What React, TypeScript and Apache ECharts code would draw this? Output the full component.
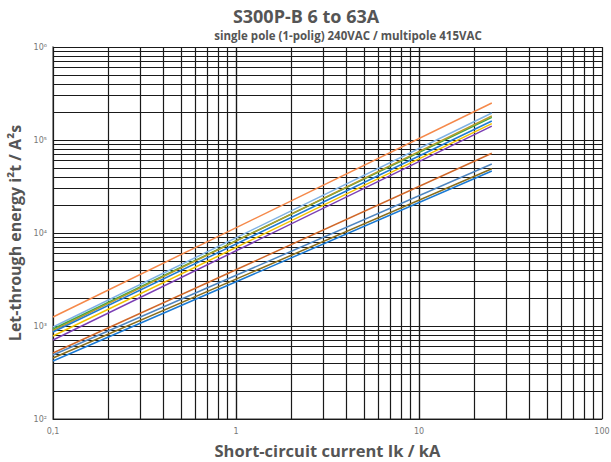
import React, { useEffect, useRef } from "react";
import * as echarts from "echarts";

const currents = [0.1, 25];
const b63 = [1250, 250000];
const b50 = [975, 195000];
const b40 = [929, 175000];
const b32 = [895, 181000];
const b25 = [862, 160000];
const b20 = [780, 150000];
const b16 = [707, 141000];
const b13 = [513, 72000];
const b10 = [488, 55200];
const b8 = [453, 49000];
const b6 = [420, 46400];

const lineDefs: [string, number[], string][] = [
  ["B63", b63, "#f5894a"],
  ["B50", b50, "#7fb2e5"],
  ["B40", b40, "#3aa845"],
  ["B32", b32, "#b59a2a"],
  ["B25", b25, "#1f7ad2"],
  ["B20", b20, "#f2c200"],
  ["B16", b16, "#7b3fb5"],
  ["B13", b13, "#d0682a"],
  ["B10", b10, "#4f86c0"],
  ["B8", b8, "#8a6e1c"],
  ["B6", b6, "#1a7ad4"],
];

const xTickLabels: Record<string, string> = { "0.1": "0,1", "1": "1", "10": "10", "100": "100" };
const yTickLabels: Record<string, string> = {
  "100": "10²",
  "1000": "10³",
  "10000": "10⁴",
  "100000": "10⁵",
  "1000000": "10⁶",
};

export default function App() {
  const ref = useRef<HTMLDivElement>(null);
  useEffect(() => {
    if (!ref.current) return;
    const chart = echarts.init(ref.current, undefined, { renderer: "svg" });
    const xGrid: number[] = [];
    for (const d of [0.1, 1, 10]) for (let k = 1; k <= 10; k++) xGrid.push(+(d * k).toPrecision(3));
    const yGrid: number[] = [];
    for (const d of [100, 1000, 10000, 100000]) for (let k = 1; k <= 10; k++) yGrid.push(d * k);
    const gridStyle = { color: "#1a1a1a", width: 1.2, type: "solid" as const };
    const series: any[] = lineDefs.map(([name, vals, color]) => ({
      name,
      type: "line",
      data: currents.map((c, i) => [c, vals[i]]),
      symbol: "none",
      lineStyle: { color, width: 1.5 },
      z: 5,
    }));
    series.unshift({
      type: "line",
      data: [],
      silent: true,
      z: 1,
      markLine: {
        silent: true,
        symbol: "none",
        label: { show: false },
        lineStyle: gridStyle,
        data: [...xGrid.map((v) => ({ xAxis: v })), ...yGrid.map((v) => ({ yAxis: v }))],
      },
    });
    chart.setOption({
      animation: false,
      title: [
        {
          text: "S300P-B 6 to 63A",
          left: 301,
          textAlign: "center",
          top: 2,
          textStyle: { fontFamily: "Open Sans", fontWeight: "bold", fontSize: 18, color: "#555" },
        },
        {
          text: "single pole (1-polig) 240VAC / multipole 415VAC",
          left: 343,
          textAlign: "center",
          top: 24,
          textStyle: { fontFamily: "Open Sans", fontWeight: "bold", fontSize: 11.5, color: "#555" },
        },
      ],
      grid: { left: 53, right: 9, top: 47, bottom: 43, outerBoundsMode: "none", containLabel: false },
      xAxis: {
        type: "log",
        logBase: 10,
        min: 0.1,
        max: 100,
        name: "Short-circuit current Ik / kA",
        nameLocation: "middle",
        nameGap: 23,
        nameTextStyle: { fontFamily: "Open Sans", fontWeight: "bold", fontSize: 16.5, color: "#555" },
        axisLine: { show: true, lineStyle: { color: "#999", width: 2 } },
        axisTick: { show: false },
        splitLine: { show: false },
        axisLabel: {
          fontSize: 8,
          color: "#777",
          margin: 8,
          fontFamily: "DejaVu Sans",
          formatter: (v: number) => xTickLabels[String(+v.toPrecision(3))] ?? "",
        },
      },
      yAxis: {
        type: "log",
        logBase: 10,
        min: 100,
        max: 1000000,
        name: "Let-through energy i²t / A²s",
        nameLocation: "middle",
        nameGap: 28,
        nameTextStyle: { fontFamily: "Open Sans", fontWeight: "bold", fontSize: 16, color: "#555" },
        axisLine: { show: true, lineStyle: { color: "#999", width: 2 } },
        axisTick: { show: false },
        splitLine: { show: false },
        axisLabel: {
          fontSize: 8,
          color: "#777",
          margin: 6,
          fontFamily: "DejaVu Sans",
          formatter: (v: number) => yTickLabels[String(Math.round(v))] ?? "",
        },
      },
      series,
    });
    return () => chart.dispose();
  }, []);
  return <div ref={ref} style={{ position: "absolute", left: 0, top: 0, width: 611, height: 462 }} />;
}
